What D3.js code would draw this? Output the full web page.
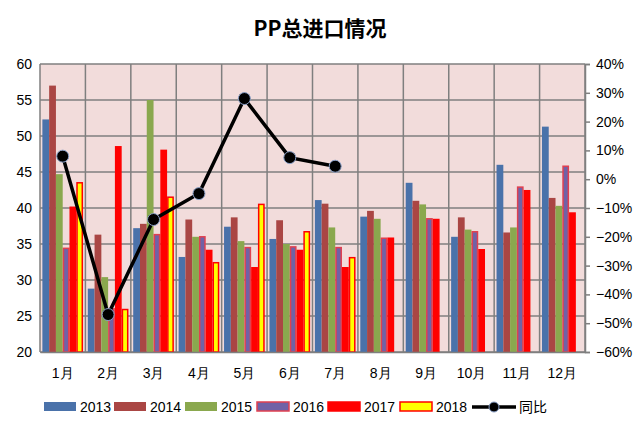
<!DOCTYPE html>
<html><head><meta charset="utf-8">
<script src="https://cdn.jsdelivr.net/npm/d3@7"></script>
<style>body{margin:0;background:#fff;font-family:"Noto Sans CJK SC","Liberation Sans",sans-serif;}</style>
</head><body><svg id="c" width="640" height="431"></svg>
<script>
const months = ["1月","2月","3月","4月","5月","6月","7月","8月","9月","10月","11月","12月"];
const years = ["2013","2014","2015","2016","2017","2018"];
const v2013 = [52.3,28.8,37.2,33.2,37.4,35.7,41.1,38.8,43.5,36.0,46.0,51.3];
const v2014 = [57.0,36.3,37.8,38.4,38.7,38.3,40.6,39.6,41.0,38.7,36.6,41.4];
const v2015 = [44.7,30.4,55.0,36.0,35.4,35.0,37.3,38.5,40.5,37.0,37.3,40.3];
const v2016 = [34.4,26.0,36.3,36.0,34.5,34.6,34.5,35.8,38.5,36.7,42.9,45.8];
const v2017 = [40.1,48.5,48.0,34.1,31.7,34.1,31.7,35.8,38.4,34.2,42.4,39.3];
const v2018 = [43.5,25.9,41.5,32.4,40.5,36.7,33.1,null,null,null,null,null];
const yoy = [0.08,-0.47,-0.14,-0.05,0.28,0.075,0.045];
const series = [v2013,v2014,v2015,v2016,v2017,v2018];
const fills = ["#4a72aa","#aa4644","#8aa84e","#7062a6","#ff0000","#ffff00"];
const strokes = [null,null,null,"#e04050","#ff0000","#ff0000"];

const svg = d3.select("#c");
const L=40,R=585,T=64,B=352;
svg.append("text").attr("x",320).attr("y",36).attr("text-anchor","middle")
  .attr("font-size",21).attr("font-weight","bold").text("PP总进口情况");
svg.append("rect").attr("x",L).attr("y",T).attr("width",R-L).attr("height",B-T).attr("fill","#f2dcdb");

const x = d3.scaleBand().domain(months).range([L,R]);
const xs = d3.scaleBand().domain(years).range([0,x.bandwidth()]).paddingOuter(0.35);
const y = d3.scaleLinear().domain([20,60]).range([B,T]);
const y2 = d3.scaleLinear().domain([-0.6,0.4]).range([B,T]);

const grid = svg.append("g").attr("stroke","#7f7f7f").attr("stroke-width",1.5);
y.ticks(8).forEach(t=>grid.append("line").attr("x1",L).attr("x2",R).attr("y1",y(t)).attr("y2",y(t)));
months.forEach(m=>grid.append("line").attr("x1",x(m)).attr("x2",x(m)).attr("y1",T).attr("y2",B));
grid.append("line").attr("x1",R).attr("x2",R).attr("y1",T).attr("y2",B);

series.forEach((s,i)=>{
  svg.append("g").selectAll("rect").data(s.map((v,j)=>({v,m:months[j]})).filter(d=>d.v!=null))
    .join("rect")
    .attr("x",d=>x(d.m)+xs(years[i])+(strokes[i]?0.75:0))
    .attr("width",xs.bandwidth()-(strokes[i]?1.5:0))
    .attr("y",d=>y(d.v)).attr("height",d=>B-y(d.v))
    .attr("fill",fills[i]).attr("stroke",strokes[i]).attr("stroke-width",1.5);
});

svg.append("g").attr("transform",`translate(${L},0)`).call(d3.axisLeft(y).ticks(8).tickSize(0).tickPadding(8))
  .call(g=>g.select(".domain").remove()).selectAll("text").attr("font-size",14).attr("font-family","Liberation Sans");
svg.append("g").attr("transform",`translate(${R},0)`).call(d3.axisRight(y2).ticks(10).tickFormat(d3.format(".0%")).tickSize(5).tickPadding(6))
  .call(g=>g.selectAll("line,path").attr("stroke","#7f7f7f").attr("stroke-width",1.5))
  .selectAll("text").attr("font-size",14).attr("font-family","Liberation Sans");
svg.append("g").attr("transform",`translate(0,${B})`).call(d3.axisBottom(x).tickSize(0).tickPadding(16))
  .call(g=>g.select(".domain").attr("stroke","#7f7f7f").attr("stroke-width",1.5))
  .selectAll("text").attr("font-size",14);

const line = d3.line().x((d,i)=>x(months[i])+x.bandwidth()/2).y(d=>y2(d));
svg.append("path").attr("d",line(yoy)).attr("fill","none").attr("stroke","#000").attr("stroke-width",3.5);
svg.append("g").selectAll("circle").data(yoy).join("circle")
  .attr("cx",(d,i)=>x(months[i])+x.bandwidth()/2).attr("cy",d=>y2(d)).attr("r",6)
  .attr("fill","#000").attr("stroke","#8aa0c8").attr("stroke-width",1);

const lg = svg.append("g").attr("font-size",14);
const lx = [44,114,185,257,328,400];
years.forEach((yr,i)=>{
  lg.append("rect").attr("x",lx[i]).attr("y",402).attr("width",32).attr("height",9)
    .attr("fill",fills[i]).attr("stroke",strokes[i]).attr("stroke-width",1.5);
  lg.append("text").attr("x",lx[i]+36).attr("y",412).attr("font-family","Liberation Sans").text(yr);
});
lg.append("line").attr("x1",472).attr("x2",516).attr("y1",407).attr("y2",407).attr("stroke","#000").attr("stroke-width",3.5);
lg.append("circle").attr("cx",494).attr("cy",407).attr("r",5).attr("fill","#000").attr("stroke","#8aa0c8");
lg.append("text").attr("x",519).attr("y",412).text("同比");
</script></body></html>
